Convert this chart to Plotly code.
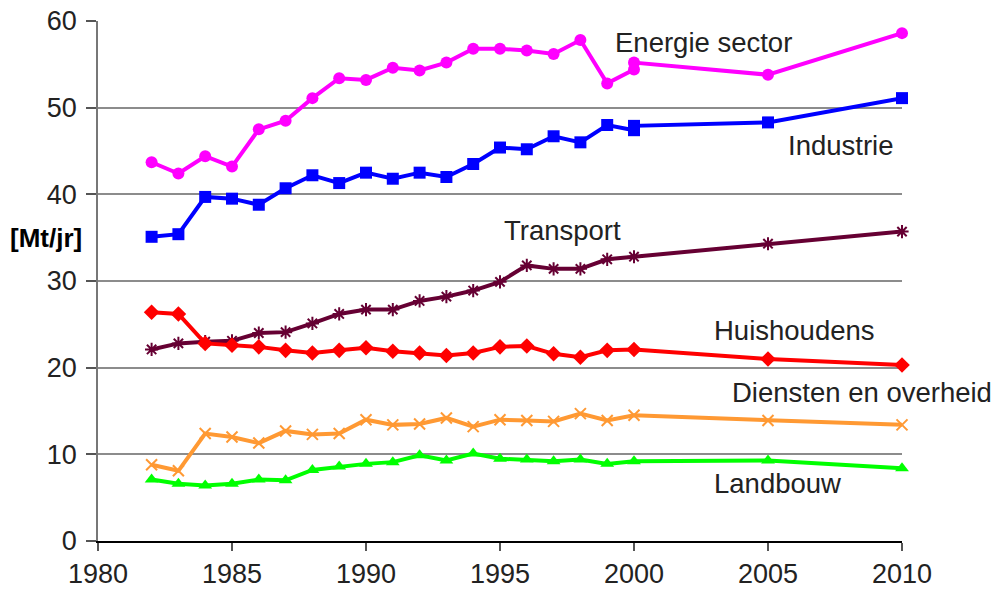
import plotly.graph_objects as go

years = [1982, 1983, 1984, 1985, 1986, 1987, 1988, 1989, 1990, 1991, 1992,
         1993, 1994, 1995, 1996, 1997, 1998, 1999, 2000, 2005, 2010]
years_e = [1982, 1983, 1984, 1985, 1986, 1987, 1988, 1989, 1990, 1991, 1992,
           1993, 1994, 1995, 1996, 1997, 1998, 1999, 2000, 2000, 2005, 2010]

energie = [43.7, 42.4, 44.4, 43.2, 47.5, 48.5, 51.1, 53.4, 53.2, 54.6, 54.3,
           55.2, 56.8, 56.8, 56.6, 56.2, 57.8, 52.8, 54.4, 55.2, 53.8, 58.6]
industrie = [35.1, 35.4, 39.7, 39.5, 38.8, 40.7, 42.2, 41.3, 42.5, 41.8, 42.5,
             42.0, 43.5, 45.4, 45.2, 46.7, 46.0, 48.0, 47.4, 47.9, 48.3, 51.1]
transport = [22.1, 22.8, 23.0, 23.1, 24.0, 24.1, 25.1, 26.2, 26.7, 26.7, 27.7,
             28.2, 28.9, 29.9, 31.8, 31.4, 31.4, 32.5, 32.8, 34.3, 35.7]
huishoudens = [26.4, 26.2, 22.8, 22.6, 22.4, 22.0, 21.7, 22.0, 22.3, 21.9, 21.7,
               21.4, 21.7, 22.4, 22.5, 21.6, 21.2, 22.0, 22.1, 21.0, 20.3]
diensten = [8.8, 8.1, 12.4, 12.0, 11.3, 12.7, 12.3, 12.4, 14.0, 13.4, 13.5,
            14.2, 13.2, 14.0, 13.9, 13.8, 14.7, 13.9, 14.5, 13.9, 13.4]
landbouw = [7.1, 6.6, 6.4, 6.6, 7.1, 7.0, 8.2, 8.6, 8.9, 9.1, 9.9,
            9.3, 10.1, 9.5, 9.4, 9.2, 9.4, 8.9, 9.2, 9.3, 8.4]

labels = ["Energie sector", "Industrie", "Transport", "Huishoudens",
          "Diensten en overheid", "Landbouw"]
label_x = [2002.6, 2007.7, 1997.35, 2006.0, 2008.5, 2005.35]
label_y = [57.5, 45.6, 35.8, 24.3, 17.1, 6.6]

x_ticks = [1980, 1985, 1990, 1995, 2000, 2005, 2010]
y_ticks = [0, 10, 20, 30, 40, 50, 60]

FONT = "Liberation Sans, Arial, sans-serif"

fig = go.Figure()

def add(x, y, color, symbol, size, open_sym=False):
    marker = dict(symbol=symbol, size=size, color=color)
    if open_sym:
        marker["line"] = dict(color=color, width=2)
    fig.add_trace(go.Scatter(x=x, y=y, mode="lines+markers",
                             line=dict(color=color, width=4),
                             marker=marker, cliponaxis=False,
                             showlegend=False))

add(years_e, energie, "#FF00FF", "circle", 12)
add(years_e, industrie, "#0000FF", "square", 12)
add(years, transport, "#660033", "asterisk-open", 11, True)
add(years, huishoudens, "#FF0000", "diamond", 12)
add(years, diensten, "#FF9933", "x-thin-open", 11, True)
add(years, landbouw, "#00FF00", "triangle-up", 12)

for t, xx, yy in zip(labels, label_x, label_y):
    fig.add_annotation(x=xx, y=yy, text=t, showarrow=False,
                       font=dict(family=FONT, size=27.5, color="#222222"),
                       xanchor="center", yanchor="middle")

fig.add_annotation(xref="paper", x=0, xshift=-14, y=35.0, text="<b>[Mt/jr]</b>",
                   showarrow=False, xanchor="right", yanchor="middle",
                   font=dict(family=FONT, size=26, color="#000000"))

fig.add_shape(type="line", xref="x", yref="y", x0=1980, x1=2010, y0=10, y1=10,
              line=dict(color="#000000", width=1.5), layer="below")

fig.update_layout(
    width=997, height=596,
    margin=dict(l=98, r=95, t=21, b=55),
    paper_bgcolor="white", plot_bgcolor="white",
    font=dict(family=FONT, size=27, color="#222222"),
)
fig.update_xaxes(range=[1980, 2010], tickvals=x_ticks, showgrid=False,
                 showline=True, linecolor="#000000", linewidth=1.5,
                 ticks="outside", ticklen=8, tickcolor="#555555", tickwidth=1.5,
                 tickfont=dict(size=27), zeroline=False, automargin=False,
                 ticklabeloverflow="allow")
fig.update_yaxes(range=[0, 60], tickvals=y_ticks, showgrid=True,
                 gridcolor="#8c8c8c", gridwidth=1.5,
                 showline=True, linecolor="#777777", linewidth=1.5,
                 ticks="outside", ticklen=10, tickcolor="#555555", tickwidth=1.5,
                 tickfont=dict(size=27), zeroline=False, automargin=False,
                 ticklabeloverflow="allow", ticklabelstandoff=4)

fig.write_html("out.html",
               config={"displayModeBar": False},
               post_script="document.body.style.margin='0px';"
                           "document.body.style.overflow='hidden';")
